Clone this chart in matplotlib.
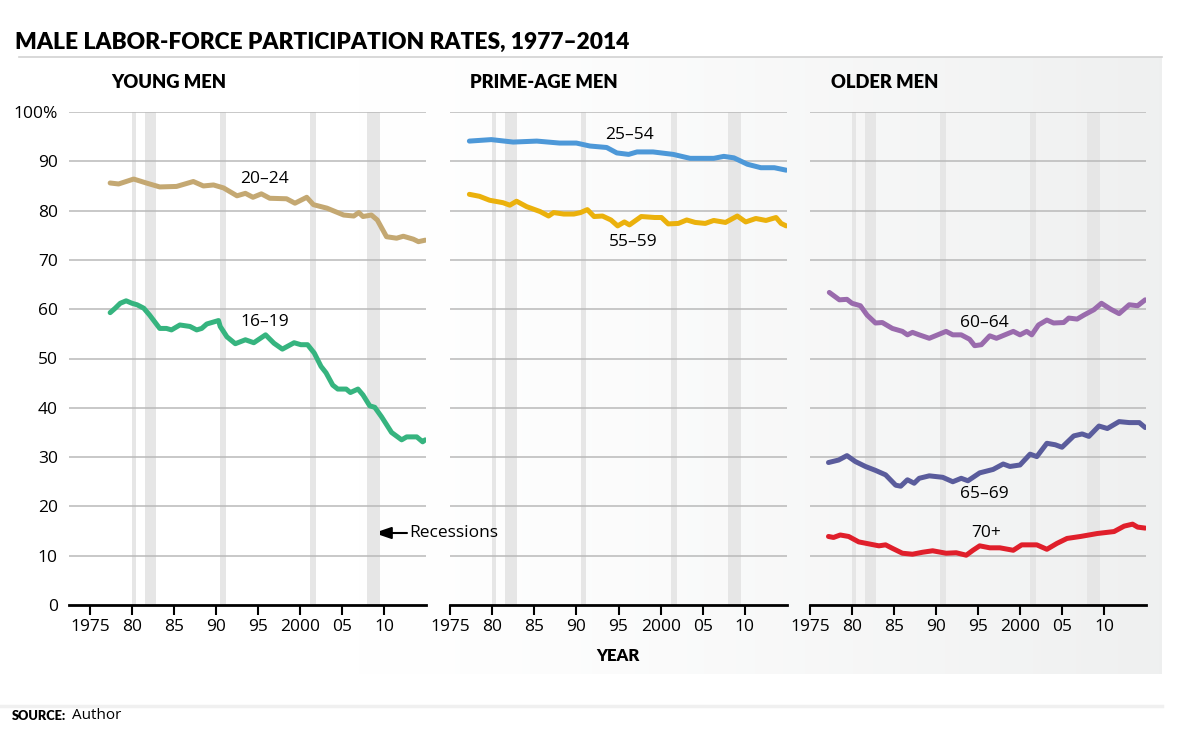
import numpy as np
import matplotlib
matplotlib.use("Agg")
import matplotlib.pyplot as plt
from matplotlib.lines import Line2D

plt.rcParams['font.family'] = ['Open Sans', 'DejaVu Sans']

# ---------------- data ----------------
recessions = [(1980.0, 1980.5), (1981.5, 1982.9), (1990.5, 1991.2),
              (2001.2, 2001.9), (2007.95, 2009.5)]

yr_2024 = [1977.4, 1978.4, 1980.2, 1981.7, 1983.3, 1985.3, 1987.3, 1988.5, 1989.7,
           1990.9, 1992.5, 1993.5, 1994.4, 1995.4, 1996.4, 1998.4, 1999.4, 2000.8,
           2001.6, 2003.2, 2005.2, 2006.4, 2007.0, 2007.5, 2008.5, 2009.2, 2010.3,
           2011.5, 2012.3, 2013.5, 2014.1, 2014.9]
val_2024 = [85.6, 85.4, 86.4, 85.6, 84.8, 84.9, 85.9, 85.0, 85.2,
            84.6, 83.0, 83.5, 82.7, 83.4, 82.5, 82.4, 81.5, 82.7,
            81.2, 80.5, 79.1, 78.9, 79.6, 78.8, 79.1, 78.1, 74.7,
            74.4, 74.8, 74.2, 73.7, 74.0]

yr_1619 = [1977.4, 1978.0, 1978.6, 1979.3, 1980.0, 1980.6, 1981.4, 1982.1, 1983.3,
           1984.1, 1984.7, 1985.7, 1986.9, 1987.7, 1988.3, 1988.9, 1990.3, 1990.5,
           1991.3, 1992.3, 1993.5, 1994.5, 1995.9, 1996.9, 1997.9, 1999.3, 2000.1,
           2000.9, 2001.7, 2002.5, 2003.1, 2003.9, 2004.5, 2005.5, 2006.0, 2006.9,
           2007.5, 2008.3, 2008.9, 2009.7, 2010.9, 2012.1, 2012.7, 2013.9, 2014.6,
           2014.9]
val_1619 = [59.3, 60.2, 61.2, 61.7, 61.2, 60.9, 60.2, 58.8, 56.1,
            56.1, 55.8, 56.8, 56.5, 55.8, 56.1, 57.0, 57.7, 56.5,
            54.4, 53.0, 53.8, 53.2, 54.8, 53.1, 51.9, 53.2, 52.8,
            52.8, 51.1, 48.4, 47.1, 44.6, 43.8, 43.8, 43.1, 43.8,
            42.6, 40.4, 40.1, 38.2, 35.0, 33.5, 34.1, 34.1, 33.1,
            33.5]

yr_2554 = [1977.3, 1979.9, 1982.5, 1985.3, 1988.0, 1990.0, 1991.6, 1993.6, 1994.8,
           1996.2, 1997.2, 1999.1, 2001.5, 2003.5, 2006.3, 2007.5, 2008.7, 2010.3,
           2011.9, 2013.5, 2014.9]
val_2554 = [94.1, 94.4, 93.9, 94.1, 93.7, 93.7, 93.1, 92.8, 91.7,
            91.4, 91.9, 91.9, 91.4, 90.6, 90.6, 91.0, 90.7, 89.4,
            88.7, 88.7, 88.2]

yr_5559 = [1977.3, 1978.5, 1979.7, 1981.3, 1982.1, 1982.9, 1984.1, 1985.7, 1986.7,
           1987.3, 1988.5, 1989.7, 1990.5, 1991.3, 1992.1, 1993.1, 1994.1, 1994.9,
           1995.7, 1996.3, 1997.7, 1999.3, 2000.1, 2000.9, 2002.1, 2003.1, 2004.1,
           2005.3, 2006.3, 2007.7, 2009.1, 2010.1, 2011.3, 2012.5, 2013.7, 2014.3,
           2014.9]
val_5559 = [83.3, 82.9, 82.1, 81.6, 81.1, 81.9, 80.8, 79.8, 78.9,
            79.6, 79.3, 79.3, 79.6, 80.2, 78.8, 78.9, 78.1, 76.9,
            77.7, 77.1, 78.8, 78.6, 78.6, 77.3, 77.4, 78.1, 77.6,
            77.4, 78.0, 77.6, 78.9, 77.7, 78.4, 78.0, 78.6, 77.4,
            76.9]

yr_6064 = [1977.3, 1978.5, 1979.4, 1980.0, 1981.0, 1981.8, 1982.8, 1983.6, 1984.8,
           1986.0, 1986.6, 1987.2, 1988.0, 1989.2, 1990.2, 1991.2, 1992.0, 1993.0,
           1994.0, 1994.6, 1995.4, 1996.4, 1997.2, 1998.2, 1999.2, 2000.0, 2000.8,
           2001.4, 2002.2, 2003.2, 2004.0, 2005.2, 2005.8, 2006.8, 2007.6, 2008.8,
           2009.7, 2010.8, 2011.8, 2013.0, 2014.0, 2014.9]
val_6064 = [63.4, 61.9, 62.0, 61.2, 60.7, 58.8, 57.2, 57.3, 56.1,
            55.5, 54.8, 55.3, 54.8, 54.1, 54.8, 55.5, 54.8, 54.8,
            53.9, 52.6, 52.8, 54.6, 54.1, 54.8, 55.5, 54.8, 55.5,
            54.8, 56.8, 57.8, 57.2, 57.3, 58.2, 58.0, 58.8, 59.9,
            61.2, 60.0, 59.1, 60.9, 60.7, 61.9]

yr_6569 = [1977.2, 1978.4, 1979.4, 1980.4, 1981.6, 1982.8, 1984.0, 1985.2, 1985.8,
           1986.6, 1987.4, 1988.0, 1989.2, 1990.8, 1992.0, 1993.0, 1993.8, 1995.2,
           1996.8, 1998.0, 1998.8, 2000.0, 2001.2, 2002.0, 2003.2, 2004.2, 2005.0,
           2006.4, 2007.4, 2008.2, 2009.4, 2010.4, 2011.8, 2013.0, 2014.2, 2014.9]
val_6569 = [28.9, 29.4, 30.3, 29.1, 28.1, 27.3, 26.4, 24.3, 24.1,
            25.4, 24.7, 25.7, 26.2, 25.9, 25.0, 25.7, 25.2, 26.8,
            27.5, 28.6, 28.1, 28.4, 30.6, 30.1, 32.8, 32.5, 32.0,
            34.3, 34.7, 34.2, 36.3, 35.8, 37.2, 37.0, 37.0, 36.0]

yr_70 = [1977.2, 1977.8, 1978.6, 1979.6, 1980.8, 1982.0, 1983.2, 1984.0, 1984.8,
         1986.0, 1987.2, 1988.4, 1989.6, 1991.2, 1992.4, 1993.6, 1994.4, 1995.2,
         1996.4, 1997.6, 1999.2, 2000.2, 2002.0, 2003.2, 2004.4, 2005.6, 2007.2,
         2009.2, 2011.2, 2012.4, 2013.4, 2014.0, 2014.9]
val_70 = [13.9, 13.7, 14.2, 13.9, 12.8, 12.4, 12.0, 12.2, 11.5,
          10.5, 10.3, 10.7, 11.0, 10.5, 10.6, 10.1, 11.1, 12.0,
          11.6, 11.6, 11.1, 12.2, 12.2, 11.3, 12.5, 13.5, 13.9,
          14.5, 14.9, 16.0, 16.4, 15.8, 15.6]

x_ticks = [1975, 1980, 1985, 1990, 1995, 2000, 2005, 2010]
x_tick_labels = ['1975', '80', '85', '90', '95', '2000', '05', '10']
y_ticks = [0, 10, 20, 30, 40, 50, 60, 70, 80, 90, 100]
y_tick_labels = ['0', '10', '20', '30', '40', '50', '60', '70', '80', '90', '100%']

panel_titles = ['YOUNG MEN', 'PRIME-AGE MEN', 'OLDER MEN']

# ---------------- figure ----------------
W, H = 1200, 733
fig = plt.figure(figsize=(W / 100, H / 100), dpi=100)
fig.patch.set_facecolor('white')

def fx(px):
    return px / W

def fy(py):
    return 1 - py / H

# background gradient panel
bg = fig.add_axes([0, 0, 1, 1], zorder=-10)
bg.set_xlim(0, W)
bg.set_ylim(H, 0)
bg.axis('off')
xs = np.linspace(0, 1162, 800)
t = np.clip((xs - 360) / (1162 - 360), 0, 1) ** 1.3
c0 = np.array([1.0, 1.0, 1.0])
c1 = np.array([0.937, 0.941, 0.941])
grad = c0[None, :] * (1 - t[:, None]) + c1[None, :] * t[:, None]
bg.imshow(grad[None, :, :], extent=(0, 1162, 674, 57), aspect='auto',
          interpolation='bilinear')
bg.add_line(Line2D([19, 1162], [57, 57], color='#d2d2d2', lw=1.2))
bg.add_line(Line2D([0, 1162], [706, 706], color='#f0f0f0', lw=2.5))

# panels (pixel geometry)
panels = [(69, 426, 1972.5), (450, 787, 1975.0), (810, 1146, 1975.0)]
top_px, bot_px = 112, 605
axes = []
for i, (l, r, x0) in enumerate(panels):
    ax = fig.add_axes([fx(l), fy(bot_px), (r - l) / W, (bot_px - top_px) / H])
    ax.set_facecolor('none')
    ax.set_xlim(x0, 2015)
    ax.set_ylim(0, 100)
    for s in ['top', 'right', 'left']:
        ax.spines[s].set_visible(False)
    ax.spines['bottom'].set_linewidth(2.0)
    ax.spines['bottom'].set_color('black')
    ax.spines['bottom'].set_zorder(5)
    ax.set_xticks(x_ticks)
    ax.set_xticklabels(x_tick_labels)
    ax.tick_params(axis='x', direction='out', length=7.2, width=1.5,
                   pad=3.0, labelsize=12.5, color='black')
    ax.set_yticks(y_ticks)
    if i == 0:
        ax.set_yticklabels(y_tick_labels)
        ax.tick_params(axis='y', length=0, pad=8, labelsize=12.5)
    else:
        ax.tick_params(axis='y', length=0, labelleft=False)
    for v in y_ticks[1:]:
        ax.axhline(v, color='#b9b9b9', lw=1.1, zorder=1)
    for a, b in recessions:
        ax.axvspan(a, b, ymin=0, ymax=1, color='#e6e6e6', lw=0, zorder=0)
    fig.text(fx([111, 470, 831][i]), fy(82.5), panel_titles[i],
             fontsize=13.2, fontweight='heavy', family=['Lato', 'DejaVu Sans'],
             va='center', ha='left')
    axes.append(ax)

lw = 3.6
kw = dict(lw=lw, solid_capstyle='round', solid_joinstyle='round', zorder=4)
axes[0].plot(yr_2024, val_2024, color='#c4a872', **kw)
axes[0].plot(yr_1619, val_1619, color='#36b47f', **kw)
axes[1].plot(yr_2554, val_2554, color='#4d98d8', **kw)
axes[1].plot(yr_5559, val_5559, color='#ebb10c', **kw)
axes[2].plot(yr_6064, val_6064, color='#9a6bad', **kw)
axes[2].plot(yr_6569, val_6569, color='#5a5c9c', **kw)
axes[2].plot(yr_70, val_70, color='#e01f2b', **kw)

lab = dict(fontsize=12.5, ha='center', va='center', zorder=6)
axes[0].text(1995.8, 86.4, '20–24', **lab)
axes[0].text(1995.8, 57.4, '16–19', **lab)
axes[1].text(1996.3, 95.4, '25–54', **lab)
axes[1].text(1996.8, 73.6, '55–59', **lab)
axes[2].text(1995.7, 57.2, '60–64', **lab)
axes[2].text(1995.7, 22.5, '65–69', **lab)
axes[2].text(1996.0, 14.6, '70+', **lab)

# recessions annotation
bg.annotate('', xy=(374, 533), xytext=(407, 533),
            arrowprops=dict(arrowstyle='-|>,head_length=1.05,head_width=0.36',
                            color='black', lw=1.5, shrinkA=0, shrinkB=0))
fig.text(fx(409), fy(533), 'Recessions', fontsize=12.5, ha='left', va='center')

# titles
fig.text(fx(15), fy(42), 'MALE LABOR-FORCE PARTICIPATION RATES, 1977–2014',
         fontsize=16.4, fontweight='heavy', family=['Lato', 'DejaVu Sans'],
         ha='left', va='center')
fig.text(fx(618), fy(656), 'YEAR', fontsize=12, fontweight='heavy',
         family=['Lato', 'DejaVu Sans'], ha='center', va='center')
fig.text(fx(12), fy(716), 'SOURCE:', fontsize=9.2, fontweight='heavy',
         family=['Lato', 'DejaVu Sans'], ha='left', va='center')
fig.text(fx(72), fy(715.5), 'Author', fontsize=11, ha='left', va='center')

fig.savefig('out.png', dpi=100)
